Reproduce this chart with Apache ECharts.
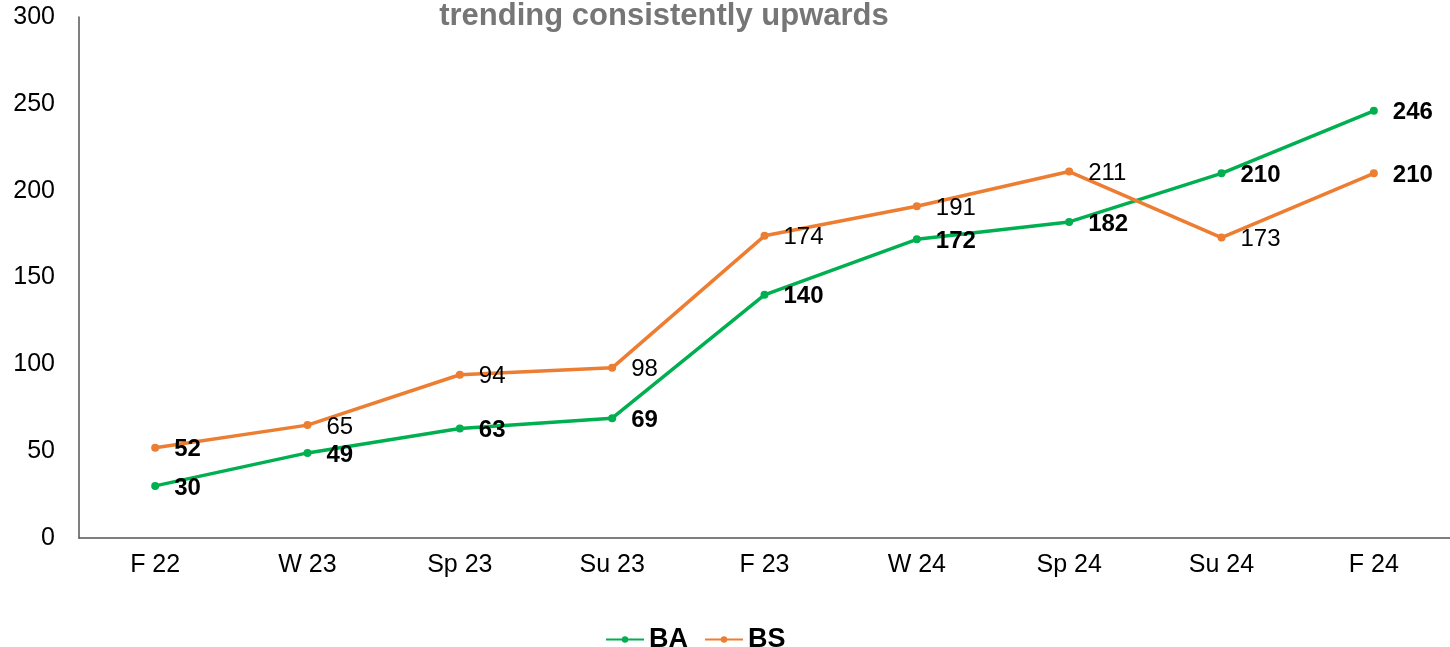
<!DOCTYPE html>
<html>
<head>
<meta charset="utf-8">
<script src="https://cdn.jsdelivr.net/npm/echarts@6/dist/echarts.min.js"></script>
<style>
  html, body { margin: 0; padding: 0; background: #fff; }
  #chart { width: 1450px; height: 647px; }
</style>
</head>
<body>
<div id="chart"></div>
<script>
// terms along the x axis
const terms = ['F 22', 'W 23', 'Sp 23', 'Su 23', 'F 23', 'W 24', 'Sp 24', 'Su 24', 'F 24'];
const baValues = [30, 49, 63, 69, 140, 172, 182, 210, 246];
const bsValues = [52, 65, 94, 98, 174, 191, 211, 173, 210];
// which BS labels are bold in the original
const bsBold = [true, false, false, false, false, false, false, false, true];

const chart = echarts.init(document.getElementById('chart'));

const font = 'Liberation Sans, Arial, sans-serif';

const option = {
  animation: false,
  title: {
    text: 'trending consistently upwards',
    left: 659,
    textAlign: 'center',
    top: -4,
    textStyle: { color: '#767676', fontSize: 31, fontWeight: 'bold', fontFamily: font }
  },
  legend: {
    data: ['BA', 'BS'],
    top: 621,
    left: 600,
    itemWidth: 38,
    itemHeight: 8,
    itemGap: 16,
    textStyle: { color: '#000', fontSize: 27, fontWeight: 'bold', fontFamily: font }
  },
  grid: { left: 79, right: -7, top: 17, bottom: 109 },
  xAxis: {
    type: 'category',
    data: terms,
    boundaryGap: true,
    axisLine: { lineStyle: { color: '#555', width: 1.5 } },
    axisTick: { show: false },
    axisLabel: { color: '#000', fontSize: 25, fontFamily: font, margin: 15 }
  },
  yAxis: {
    type: 'value',
    min: 0,
    max: 300,
    interval: 50,
    axisLine: { show: true, lineStyle: { color: '#555', width: 1.5 } },
    axisTick: { show: false },
    splitLine: { show: false },
    axisLabel: { color: '#000', fontSize: 25, fontFamily: font, margin: 24 }
  },
  series: [
    {
      name: 'BA',
      type: 'line',
      data: baValues,
      color: '#00B050',
      lineStyle: { width: 3.5 },
      symbol: 'circle',
      symbolSize: 8,
      label: {
        show: true,
        position: 'right',
        distance: 15,
        offset: [0, 2],
        color: '#000',
        fontSize: 24,
        fontWeight: 'bold',
        fontFamily: font
      }
    },
    {
      name: 'BS',
      type: 'line',
      data: bsValues.map((v, i) => ({
        value: v,
        label: { fontWeight: bsBold[i] ? 'bold' : 'normal' }
      })),
      color: '#ED7D31',
      lineStyle: { width: 3.5 },
      symbol: 'circle',
      symbolSize: 8,
      label: {
        show: true,
        position: 'right',
        distance: 15,
        offset: [0, 2],
        color: '#000',
        fontSize: 24,
        fontFamily: font
      }
    }
  ]
};

chart.setOption(option);
</script>
</body>
</html>
